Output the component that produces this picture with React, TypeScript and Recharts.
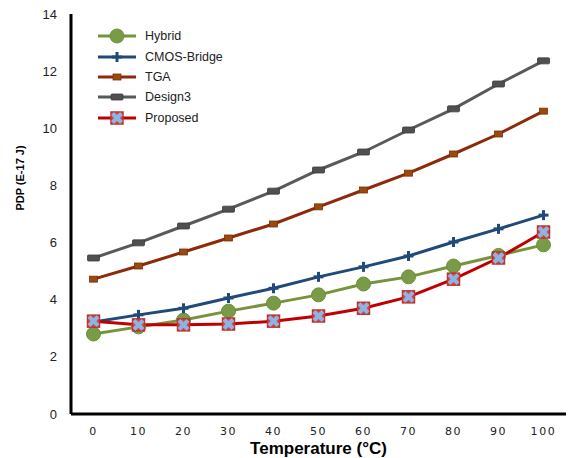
import React from "react";
import { LineChart, Line, XAxis, YAxis } from "recharts";

const temperatures = [0, 10, 20, 30, 40, 50, 60, 70, 80, 90, 100];
const hybrid = [2.8, 3.05, 3.29, 3.6, 3.88, 4.17, 4.55, 4.8, 5.18, 5.55, 5.92];
const cmosBridge = [3.22, 3.47, 3.7, 4.06, 4.4, 4.8, 5.15, 5.53, 6.02, 6.48, 6.96];
const tga = [4.72, 5.18, 5.67, 6.16, 6.65, 7.25, 7.84, 8.43, 9.1, 9.8, 10.6];
const design3 = [5.46, 5.99, 6.58, 7.17, 7.8, 8.54, 9.17, 9.94, 10.68, 11.55, 12.36];
const proposed = [3.25, 3.12, 3.12, 3.15, 3.25, 3.43, 3.7, 4.1, 4.72, 5.46, 6.37];
const yTicks = [0, 2, 4, 6, 8, 10, 12, 14];

const data = temperatures.map((t, i) => ({
  t,
  hybrid: hybrid[i],
  cmos: cmosBridge[i],
  tga: tga[i],
  design3: design3[i],
  proposed: proposed[i],
}));

type MarkerKind = "circle" | "plus" | "smallSquare" | "rect" | "xsquare";

function Marker({ kind, cx, cy, color }: { kind: MarkerKind; cx: number; cy: number; color: string }) {
  if (kind === "circle") {
    return <circle cx={cx} cy={cy} r={7} fill="#799a46" stroke="#6f8f3c" strokeWidth={1} />;
  }
  if (kind === "plus") {
    return (
      <g stroke={color} strokeWidth={3}>
        <line x1={cx - 5} y1={cy} x2={cx + 5} y2={cy} />
        <line x1={cx} y1={cy - 5} x2={cx} y2={cy + 5} />
      </g>
    );
  }
  if (kind === "smallSquare") {
    return <rect x={cx - 4} y={cy - 3} width={8} height={6} fill="#9a4a0c" stroke="#7a3008" strokeWidth={0.8} />;
  }
  if (kind === "rect") {
    return <rect x={cx - 6} y={cy - 3} width={12} height={6} rx={1} fill="#505050" stroke="#3a3a3a" strokeWidth={0.8} />;
  }
  return (
    <g>
      <rect x={cx - 6} y={cy - 6} width={12} height={12} fill="#cf4a4a" stroke="#c0302d" strokeWidth={1.5} />
      <g stroke="#8eb4e3" strokeWidth={4} strokeLinecap="butt">
        <line x1={cx - 4.5} y1={cy - 4.5} x2={cx + 4.5} y2={cy + 4.5} />
        <line x1={cx - 4.5} y1={cy + 4.5} x2={cx + 4.5} y2={cy - 4.5} />
      </g>
    </g>
  );
}

const seriesList: { key: string; name: string; color: string; marker: MarkerKind }[] = [
  { key: "hybrid", name: "Hybrid", color: "#77933c", marker: "circle" },
  { key: "cmos", name: "CMOS-Bridge", color: "#1f4a7a", marker: "plus" },
  { key: "tga", name: "TGA", color: "#8c2a0a", marker: "smallSquare" },
  { key: "design3", name: "Design3", color: "#595959", marker: "rect" },
  { key: "proposed", name: "Proposed", color: "#c00000", marker: "xsquare" },
];

function LegendBox() {
  return (
    <div
      style={{
        position: "absolute",
        left: 96,
        top: 26,
        fontFamily: "'Liberation Sans', Arial, sans-serif",
        fontSize: 12.5,
        color: "#222",
      }}
    >
      {seriesList.map((s) => (
        <div key={s.key} style={{ display: "flex", alignItems: "center", height: 20.4 }}>
          <svg width={42} height={18} style={{ display: "block" }}>
            <line x1={2} y1={9} x2={40} y2={9} stroke={s.color} strokeWidth={3} />
            <Marker kind={s.marker} cx={21} cy={9} color={s.color} />
          </svg>
          <span style={{ marginLeft: 7 }}>{s.name}</span>
        </div>
      ))}
    </div>
  );
}

function YTitle(props: any) {
  const vb = props.viewBox || { x: 0, y: 14, width: 71, height: 400 };
  const x = vb.x + 20;
  const y = vb.y + vb.height * 0.41;
  return (
    <text
      x={x}
      y={y}
      transform={`rotate(-90, ${x}, ${y})`}
      textAnchor="middle"
      dominantBaseline="central"
      style={{ fontWeight: "bold", fontSize: 11, fill: "#000", fontFamily: "'Liberation Sans', Arial, sans-serif" }}
    >
      PDP (E-17 J)
    </text>
  );
}

export default function App() {
  return (
    <div style={{ position: "absolute", left: 0, top: 0, width: 569, height: 458, background: "#fff" }}>
      <LineChart
        width={569}
        height={458}
        data={data}
        margin={{ top: 14, right: 3, bottom: 0, left: 0 }}
      >
        <XAxis
          dataKey="t"
          type="category"
          height={44}
          padding={{ left: 22.5, right: 22.5 }}
          tickLine={false}
          tickMargin={7}
          axisLine={{ stroke: "#000", strokeWidth: 3 }}
          tick={{ fill: "#222", fontSize: 11, fontFamily: "'DejaVu Sans', sans-serif", letterSpacing: 1.6 }}
          label={{
            value: "Temperature (°C)",
            position: "insideBottom",
            offset: 4,
            style: { fontWeight: "bold", fontSize: 17, fill: "#000", fontFamily: "'Liberation Sans', Arial, sans-serif" },
          }}
        />
        <YAxis
          width={71}
          domain={[0, 14]}
          ticks={yTicks}
          tickLine={false}
          tickMargin={8}
          axisLine={{ stroke: "#000", strokeWidth: 3 }}
          tick={{ fill: "#222", fontSize: 13, fontFamily: "'Liberation Sans', Arial, sans-serif" }}
          label={<YTitle />}
        />
        {seriesList.map((s) => (
          <Line
            key={s.key}
            dataKey={s.key}
            name={s.name}
            stroke={s.color}
            strokeWidth={3}
            isAnimationActive={false}
            dot={(p: any) => <Marker key={`${s.key}-${p.index}`} kind={s.marker} cx={p.cx} cy={p.cy} color={s.color} />}
            activeDot={false}
          />
        ))}
      </LineChart>
      <LegendBox />
    </div>
  );
}
